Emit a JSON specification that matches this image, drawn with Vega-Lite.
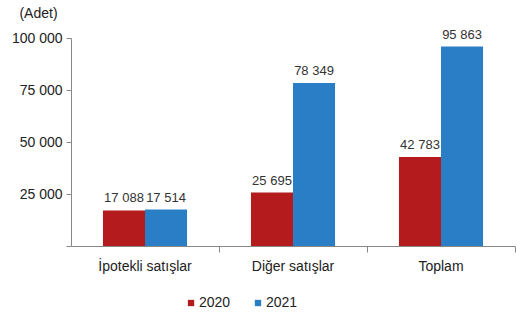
{
  "$schema": "https://vega.github.io/schema/vega-lite/v6.json",
  "width": 444,
  "height": 208,
  "autosize": {"type": "none"},
  "padding": {"left": 71, "top": 38, "right": 1, "bottom": 72},
  "background": "white",
  "data": {
    "values": [
      {"kategori": "İpotekli satışlar", "yil": "2020", "adet": 17088},
      {"kategori": "İpotekli satışlar", "yil": "2021", "adet": 17514},
      {"kategori": "Diğer satışlar", "yil": "2020", "adet": 25695},
      {"kategori": "Diğer satışlar", "yil": "2021", "adet": 78349},
      {"kategori": "Toplam", "yil": "2020", "adet": 42783},
      {"kategori": "Toplam", "yil": "2021", "adet": 95863}
    ]
  },
  "encoding": {
    "x": {
      "field": "kategori",
      "type": "nominal",
      "sort": null,
      "scale": {"paddingInner": 0.432, "paddingOuter": 0.216},
      "axis": {
        "title": null,
        "labelAngle": 0,
        "labelFontSize": 14,
        "labelColor": "#222",
        "labelPadding": 7,
        "domainColor": "#888",
        "tickColor": "#888",
        "tickSize": 6,
        "bandPosition": 1.381
      }
    },
    "xOffset": {"field": "yil", "type": "nominal"},
    "y": {
      "field": "adet",
      "type": "quantitative",
      "scale": {"domain": [0, 100000]},
      "axis": {
        "title": "(Adet)",
        "titleAngle": 0,
        "titleX": -33,
        "titleY": -25,
        "titleAlign": "center",
        "titleBaseline": "middle",
        "titleFontWeight": "normal",
        "titleFontSize": 14,
        "titleColor": "#222",
        "values": [0, 25000, 50000, 75000, 100000],
        "format": ",d",
        "labelExpr": "datum.value == 0 ? '' : datum.label",
        "labelFontSize": 14,
        "labelColor": "#222",
        "labelPadding": 4,
        "grid": false,
        "domainColor": "#888",
        "tickColor": "#888",
        "tickSize": 5
      }
    }
  },
  "layer": [
    {
      "mark": {"type": "bar"},
      "encoding": {
        "color": {
          "field": "yil",
          "type": "nominal",
          "scale": {"domain": ["2020", "2021"], "range": ["#b41b1c", "#2a7ec6"]},
          "legend": {
            "title": null,
            "orient": "none",
            "direction": "horizontal",
            "legendX": 113,
            "legendY": 258,
            "symbolType": "square",
            "symbolSize": 40,
            "symbolStrokeWidth": 0,
            "labelFontSize": 14,
            "labelColor": "#222",
            "labelOffset": 1,
            "columnPadding": 20
          }
        }
      }
    },
    {
      "mark": {"type": "text", "dy": -12, "fontSize": 13, "color": "#333"},
      "encoding": {
        "text": {"field": "adet", "type": "quantitative", "format": ",d"}
      }
    }
  ],
  "config": {
    "font": "Liberation Sans",
    "view": {"stroke": null},
    "locale": {
      "number": {"decimal": ",", "thousands": " ", "grouping": [3], "currency": ["", " TL"]}
    }
  }
}
